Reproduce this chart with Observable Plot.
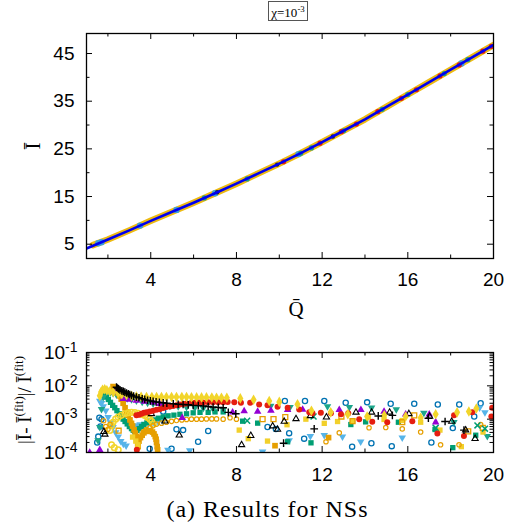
<!DOCTYPE html>
<html><head><meta charset="utf-8">
<script src="https://cdn.jsdelivr.net/npm/d3@7"></script>
<script src="https://cdn.jsdelivr.net/npm/@observablehq/plot@0.6"></script>
<style>
body{margin:0;background:#fff;}
#wrap{position:relative;width:526px;height:531px;overflow:hidden;background:#fff;}
.abs{position:absolute;}
.serif{font-family:"Liberation Serif","DejaVu Serif",serif;color:#000;white-space:nowrap;line-height:1;}
.rot{transform:translate(-50%,-50%) rotate(-90deg);}
.ctr{transform:translate(-50%,-50%);}
sup{font-size:0.68em;vertical-align:0.55em;line-height:0;}
</style></head><body><div id="wrap"></div>
<script>
// ---------- tick values ----------
const xMajor = [4, 8, 12, 16, 20];
const xMinor = [2, 6, 10, 14, 18];
const yTopMajor = [5, 15, 25, 35, 45];
const yTopMinor = [10, 20, 30, 40];
const yBotMajor = [1e-4, 1e-3, 1e-2, 1e-1];
const yBotMinor = [2e-4,3e-4,4e-4,5e-4,6e-4,7e-4,8e-4,9e-4,2e-3,3e-3,4e-3,5e-3,6e-3,7e-3,8e-3,9e-3,2e-2,3e-2,4e-2,5e-2,6e-2,7e-2,8e-2,9e-2];

// ---------- top panel data ----------
const fitQ = [1,2,3,4,5,6,7,8,9,10,11,12,13,14,15,16,17,18,19,20];
const fitI = [4.1,6.0,7.9,9.9,11.8,13.7,15.7,17.7,19.8,21.9,24.1,26.4,28.8,31.2,33.8,36.4,39.0,41.6,44.2,46.8];
const bandQ = [1.3,2,3,4,5,6,7,8,9,10,11,12,13,14,15,16,17,18,19,20];
const bandI = [4.8,6.0,7.9,9.9,11.8,13.7,15.7,17.7,19.8,21.9,24.1,26.4,28.8,31.2,33.8,36.4,39.0,41.6,44.2,46.8];
const topRed = [[10.2,22.3],[11.9,26.2],[12.9,28.6],[13.6,30.2],[14.6,32.8],[15.7,35.6],[16.4,37.4],[17.5,40.3],[18.4,42.6],[19.5,45.5],[19.9,46.5]];
const topTeal = [[11.0,24.1],[11.5,25.2],[13.0,28.8],[14.8,33.3],[16.0,36.4],[17.7,40.8],[18.8,43.7],[6.5,14.7],[8.5,18.7]];
const topLightBlue = [[1.55,5.2],[1.7,5.4],[5.2,12.2],[7.0,15.7],[10.9,23.9],[18.5,42.9],[3.5,8.9]];
const topBlack = [[7.1,15.9],[9.9,21.7],[12.5,27.6]];

// ---------- bottom panel data: [Q, |I - Ifit|/Ifit] ----------
const blackPlus = [[2.40,9.1e-3],[2.45,8.6e-3],[2.50,8.1e-3],[2.56,7.6e-3],[2.65,7.1e-3],[2.72,6.8e-3],[2.79,6.5e-3],[2.87,6.1e-3],[2.95,5.8e-3],[3.02,5.5e-3],[3.10,5.2e-3],[3.20,4.9e-3],[3.33,4.6e-3],[3.45,4.4e-3],[3.60,4.1e-3],[3.72,3.9e-3],[3.85,3.7e-3],[3.98,3.55e-3],[4.11,3.4e-3],[4.25,3.3e-3],[4.40,3.2e-3],[4.58,3.1e-3],[4.75,3.0e-3],[5.05,2.9e-3],[5.28,2.8e-3],[5.51,2.75e-3],[5.75,2.7e-3],[5.98,2.6e-3],[6.22,2.55e-3],[6.45,2.5e-3],[6.68,2.4e-3],[6.91,2.3e-3],[7.15,2.25e-3],[7.38,2.2e-3],[7.62,1.6e-3],[7.97,1.45e-3],[10.2,1.9e-4],[11.63,5.1e-4],[14.62,1.25e-3],[15.28,1.3e-3],[16.96,1.07e-3],[17.74,8.5e-4],[18.62,4.7e-4]];
const yellowDiamond = [[1.62,5.0e-3],[1.68,6.5e-3],[1.75,7.6e-3],[1.85,7.9e-3],[1.95,7.4e-3],[2.09,6.9e-3],[2.25,6.4e-3],[2.48,6.0e-3],[2.65,5.6e-3],[2.87,5.3e-3],[3.1,5.0e-3],[3.33,4.8e-3],[3.55,4.7e-3],[3.8,4.65e-3],[4.05,4.6e-3],[4.27,4.6e-3],[4.5,4.6e-3],[4.73,4.6e-3],[4.97,4.6e-3],[5.2,4.6e-3],[5.45,4.6e-3],[5.67,4.6e-3],[5.9,4.55e-3],[6.14,4.5e-3],[6.37,4.5e-3],[6.6,4.5e-3],[6.85,4.45e-3],[7.07,4.4e-3],[7.3,4.4e-3],[7.55,4.4e-3],[8.18,4.2e-3],[8.8,3.8e-3],[9.53,3.5e-3],[10.0,3.3e-3],[10.85,2.8e-3],[11.5,1.8e-3],[12.4,1.6e-3],[13.2,1.4e-3],[14.1,1.2e-3],[14.9,1.3e-3],[15.9,1.2e-3],[16.6,1.1e-3],[17.3,1.4e-3],[18.3,1.6e-3],[18.85,1.7e-3],[19.2,2.1e-3]];
const redCircle = [[3.33,1.3e-3],[3.45,1.35e-3],[3.57,1.45e-3],[3.68,1.55e-3],[3.80,1.6e-3],[3.95,1.7e-3],[4.11,1.8e-3],[4.27,1.9e-3],[4.42,2.0e-3],[4.58,2.15e-3],[4.73,2.3e-3],[4.9,2.4e-3],[5.05,2.5e-3],[5.2,2.6e-3],[5.36,2.75e-3],[5.52,2.85e-3],[5.67,2.95e-3],[5.86,3.0e-3],[6.06,3.1e-3],[6.25,3.15e-3],[6.45,3.15e-3],[6.68,3.2e-3],[6.91,3.2e-3],[7.15,3.2e-3],[7.38,3.2e-3],[7.59,3.3e-3],[7.9,3.2e-3],[8.21,3.1e-3],[8.64,3.1e-3],[9.06,2.75e-3],[9.45,2.6e-3],[9.92,2.35e-3],[10.39,2.2e-3],[10.93,1.95e-3],[11.4,1.6e-3],[11.55,1.5e-3],[11.94,1.55e-3],[12.41,1.5e-3],[12.88,1.4e-3],[13.22,1.5e-3],[13.73,1.0e-3],[14.34,8.3e-4],[15.04,8.1e-4],[16.21,8.7e-4],[17.38,3.7e-4],[18.16,1.3e-3],[18.62,3.1e-4],[19.01,1.6e-3],[19.9,1.2e-3],[19.94,2.2e-3],[3.35,1.2e-4]];
const purpleTri = [[1.15,1.0e-4],[1.62,1.2e-4],[2.3,6.5e-3],[2.71,4.1e-3],[3.0,3.9e-3],[3.33,3.6e-3],[3.7,3.4e-3],[4.11,3.2e-3],[4.42,2.9e-3],[4.73,2.6e-3],[5.47,1.1e-3],[7.82,1.6e-3],[8.36,1.75e-3],[8.99,1.7e-3],[9.61,1.8e-3],[10.39,1.9e-3],[11.09,1.95e-3],[12.8,1.9e-3],[13.81,1.9e-3],[14.89,1.7e-3],[15.9,1.4e-3],[17.0,1.4e-3],[17.3,8.1e-4]];
const greenDownTri = [[1.54,2.3e-4],[1.62,5.8e-4],[1.70,2.0e-3],[1.78,4.6e-3],[1.86,7.6e-3],[2.0,7.0e-3],[2.12,6.4e-3],[2.24,6.0e-3],[2.4,5.4e-3],[2.55,5.0e-3],[2.71,4.6e-3],[2.9,4.2e-3],[3.1,3.9e-3],[3.33,3.6e-3],[3.6,3.3e-3],[3.85,3.1e-3],[4.11,2.9e-3],[4.5,2.7e-3],[4.89,2.5e-3],[5.28,2.4e-3],[5.67,2.3e-3],[6.06,2.2e-3],[6.45,2.15e-3],[6.9,2.05e-3],[7.38,2.0e-3],[9.6,2.5e-3],[10.5,2.3e-3],[12.25,2.4e-3],[13.27,2.3e-3],[14.31,2.2e-3],[15.46,1.95e-3],[16.75,1.55e-3],[18.15,8.1e-4],[19.71,3.1e-4]];
const greenSquare = [[1.75,6.5e-3],[1.84,5.5e-3],[1.93,4.6e-3],[2.02,3.9e-3],[2.12,3.2e-3],[2.22,2.6e-3],[2.32,2.2e-3],[2.42,1.8e-3],[2.53,1.45e-3],[2.62,1.2e-3],[2.71,1.0e-3],[2.8,8.5e-4],[2.9,7.2e-4],[3.0,6.0e-4],[3.1,5.2e-4],[3.18,4.6e-4],[3.26,4.2e-4],[3.36,4.6e-4],[3.46,5.2e-4],[3.57,6.0e-4],[3.68,6.9e-4],[3.82,7.8e-4],[3.96,8.7e-4],[4.15,9.5e-4],[4.35,1.07e-3],[4.58,1.17e-3],[4.81,1.26e-3],[5.08,1.32e-3],[5.36,1.4e-3],[5.67,1.45e-3],[5.98,1.55e-3],[6.3,1.6e-3],[6.68,1.6e-3],[7.0,1.65e-3],[7.38,1.65e-3],[8.29,8.7e-4],[8.99,7.6e-4],[10.39,2.1e-4],[11.48,1.95e-4],[13.34,6.9e-4],[14.03,8.3e-4],[15.56,8.1e-4],[17.27,4.9e-4],[18.1,1.4e-4],[19.17,3.3e-4]];
const lightBlueDownTri = [[1.62,3.5e-3],[1.7,3.0e-3],[1.78,2.4e-3],[1.9,1.8e-3],[2.01,1.15e-3],[2.12,8.0e-4],[2.24,5.8e-4],[2.36,4.0e-4],[2.48,3.0e-4],[2.6,2.2e-4],[2.72,1.8e-4],[2.85,1.6e-4],[3.33,6.5e-4],[3.5,6.9e-4],[3.72,7.2e-4],[3.9,7.5e-4],[4.11,8.0e-4],[4.35,8.3e-4],[4.58,8.5e-4],[4.8,1.2e-4],[5.82,1.15e-4],[9.22,1.05e-4],[10.46,2.3e-4],[11.45,3.1e-4],[12.1,3.3e-4],[12.95,3.0e-4],[13.8,2.1e-4],[15.74,2.8e-4],[19.35,2.2e-3],[19.6,1.6e-3]];
const blueOpenCircle = [[1.5,2.0e-4],[1.55,3.0e-4],[1.6,1.1e-3],[1.65,6.0e-4],[1.7,1.0e-3],[3.95,1.3e-4],[4.58,1.7e-3],[4.97,1.3e-4],[5.2,5.0e-4],[5.51,4.7e-4],[6.21,2.1e-4],[6.68,4.4e-4],[9.45,5.8e-4],[9.84,5.1e-4],[10.26,3.5e-3],[10.46,3.8e-4],[11.16,2.6e-4],[11.2,3.5e-3],[12.1,3.5e-3],[13.1,3.1e-3],[13.4,1.5e-4],[14.1,3.2e-3],[14.3,1.9e-4],[15.2,2.9e-3],[15.25,1.55e-4],[16.3,2.9e-3],[17.1,2.0e-4],[17.4,2.75e-3],[18.1,5.4e-4],[18.4,2.75e-3],[19.1,1.2e-3],[19.4,3.0e-3]];
const blackOpenTri = [[1.81,4.2e-4],[1.86,3.5e-4],[4.03,1.45e-3],[4.66,8.7e-4],[5.33,3.3e-4],[8.24,1.7e-4],[8.67,3.2e-4],[9.69,6.2e-4],[9.92,4.9e-4],[10.23,8.5e-4],[10.78,1.02e-3],[11.45,1.26e-3],[12.2,1.15e-3],[13.58,1.6e-3],[14.31,1.6e-3],[15.15,1.6e-3],[16.05,1.45e-3],[17.02,1.2e-3],[18.05,8.5e-4],[18.7,4.7e-4],[19.14,2.6e-4]];
const yellowSquare = [[3.15,2.9e-4],[3.3,2.2e-4],[3.4,1.7e-4],[8.13,4.7e-4],[8.55,2.6e-4],[9.45,2.2e-4],[10.36,6.8e-4],[11.24,1.0e-3],[12.1,7.5e-4],[12.72,8.5e-4],[13.42,8.7e-4],[14.16,1.15e-3],[14.89,9.8e-4],[15.74,9.1e-4],[16.6,8.1e-4],[17.5,4.7e-4],[18.5,1.5e-4],[19.51,4.1e-4]];
const orangeSquare = [[2.24,9.5e-3],[2.3,8.6e-3],[2.36,7.8e-3],[2.42,7.0e-3],[2.48,6.0e-3],[2.55,5.0e-3],[2.62,4.0e-3],[2.71,3.0e-3],[2.8,2.2e-3],[2.88,1.65e-3],[2.95,1.3e-3],[3.03,9.5e-4],[3.1,7.5e-4],[3.15,6.2e-4],[3.22,4.8e-4],[3.28,3.8e-4],[3.33,3.0e-4],[3.37,2.3e-4],[3.39,1.8e-4],[3.41,1.5e-4],[3.45,2.2e-4],[3.52,2.8e-4],[3.6,3.3e-4],[3.68,3.9e-4],[3.78,4.3e-4],[3.88,4.5e-4],[3.98,4.4e-4],[4.08,4.1e-4],[4.15,3.6e-4],[4.21,3.0e-4],[4.25,2.5e-4],[4.27,2.0e-4],[4.3,1.5e-4],[4.32,1.2e-4],[9.8,1.6e-4],[12.3,2.8e-4]];
const orangeOpenSquare = [[2.5,4.5e-4],[9.22,1.0e-3],[9.73,1.0e-3],[10.28,1.15e-3],[12.9,1.2e-3],[13.42,8.7e-4],[15.74,8.1e-4],[16.3,1.3e-3],[18.82,4.3e-4],[19.5,5.5e-4]];
const orangeOpenCircle = [[1.8,9e-4],[1.9,6e-4],[2.0,5e-4],[2.1,7e-4],[3.65,4.2e-4],[3.8,4.9e-4],[3.96,5.6e-4],[4.1,6.3e-4],[4.27,7.1e-4],[4.5,7.6e-4],[4.73,8.1e-4],[4.97,8.6e-4],[5.2,9.1e-4],[5.45,9.5e-4],[5.67,9.8e-4],[5.9,1.0e-3],[6.14,1.0e-3],[6.37,1.0e-3],[6.6,1.02e-3],[6.85,1.02e-3],[7.07,1.02e-3],[7.38,1.0e-3],[7.7,1.1e-3],[8.0,1.0e-3],[12.18,2.1e-4],[12.8,3.9e-4],[14.19,5.5e-4],[14.97,5.6e-4],[15.74,5.1e-4],[16.6,4.1e-4],[17.53,1.7e-4],[18.39,1.7e-4],[19.4,6.9e-4]];
const yellowOpenCircle = [[2.09,4.6e-4],[2.17,6.5e-4],[2.24,8.1e-4],[2.36,1.0e-3],[2.48,1.15e-3],[2.63,1.3e-3],[2.79,1.45e-3],[2.95,1.55e-3],[3.1,1.6e-3],[3.26,1.58e-3],[3.41,1.5e-3],[3.57,1.38e-3],[3.72,1.28e-3],[3.85,1.12e-3],[3.96,1.0e-3],[4.05,8.5e-4],[4.12,7e-4],[2.17,1.7e-4],[2.3,1.4e-4],[2.48,1.2e-4]];
const greenTimes = [[8.5,9e-4],[11.6,1.2e-3],[17.3,5.5e-4],[19.25,6.5e-4],[19.6,5.2e-4]];

// ---------- layout ----------
const W = 526, LM = 86, RM = 33;
const wrap = document.getElementById("wrap");
const font = "'Liberation Sans', Arial, Helvetica, sans-serif";

function frameTicks(xMaj, xMin, yMaj, yMin, innerW, innerH) {
  const big = 6, small = 3.5;
  return [
    Plot.tickX(xMaj, {x: d => d, insetTop: innerH - big}),
    Plot.tickX(xMaj, {x: d => d, insetBottom: innerH - big}),
    Plot.tickX(xMin, {x: d => d, insetTop: innerH - small}),
    Plot.tickX(xMin, {x: d => d, insetBottom: innerH - small}),
    Plot.tickY(yMaj, {y: d => d, insetRight: innerW - big}),
    Plot.tickY(yMaj, {y: d => d, insetLeft: innerW - big}),
    Plot.tickY(yMin, {y: d => d, insetRight: innerW - small}),
    Plot.tickY(yMin, {y: d => d, insetLeft: innerW - small})
  ];
}

// top panel
const H1 = 325, T1 = 33, B1 = 67;
const topPlot = Plot.plot({
  width: W, height: H1, marginTop: T1, marginBottom: B1, marginLeft: LM, marginRight: RM,
  style: {fontFamily: font, fontSize: "19px", color: "#000", background: "transparent"},
  x: {domain: [1, 20]},
  y: {domain: [2, 49.2]},
  marks: [
    Plot.line(bandQ.map((q, i) => [q, bandI[i]]), {x: "0", y: "1", stroke: "#EDBA12", strokeWidth: 6.5, clip: true}),
    Plot.dot(topLightBlue, {x: "0", y: "1", fill: "#3C9FD8", r: 3.2, clip: true}),
    Plot.dot(topTeal, {x: "0", y: "1", fill: "#1C9E86", r: 2.6, clip: true}),
    Plot.dot(topRed, {x: "0", y: "1", fill: "#E51E10", r: 2.6, clip: true}),
    Plot.dot(topBlack, {x: "0", y: "1", fill: "#222", r: 2.2, clip: true}),
    Plot.line(fitQ.map((q, i) => [q, fitI[i]]), {x: "0", y: "1", stroke: "#0000F0", strokeWidth: 2.6, clip: true}),
    ...frameTicks(xMajor, xMinor, yTopMajor, yTopMinor, W - LM - RM, H1 - T1 - B1),
    Plot.frame({stroke: "#000", strokeWidth: 1.3}),
    Plot.axisX({ticks: xMajor, tickSize: 0, tickPadding: 14, label: null}),
    Plot.axisY({ticks: yTopMajor, tickSize: 0, tickPadding: 12, label: null})
  ]
});
topPlot.style.position = "absolute"; topPlot.style.left = "0px"; topPlot.style.top = "0px";
wrap.appendChild(topPlot);

// bottom panel
const H2 = 160, T2 = 22, B2 = 38, Y2 = 330;
const sym = (data, o) => Plot.dot(data, {x: "0", y: "1", r: 2.8, clip: true, ...o});
const botPlot = Plot.plot({
  width: W, height: H2, marginTop: T2, marginBottom: B2, marginLeft: LM, marginRight: RM,
  style: {fontFamily: font, fontSize: "19px", color: "#000", background: "transparent"},
  x: {domain: [1, 20]},
  y: {type: "log", domain: [1e-4, 1e-1]},
  marks: [
    sym(blueOpenCircle, {symbol: "circle", stroke: "#0072B2", fill: "none", strokeWidth: 1.3, r: 2.6}),
    sym(lightBlueDownTri, {symbol: "triangle", rotate: 180, fill: "#56B4E9"}),
    sym(greenSquare, {symbol: "square", fill: "#009E73", r: 3}),
    sym(greenDownTri, {symbol: "triangle", rotate: 180, fill: "#1CA58A"}),
    sym(orangeSquare, {symbol: "square", fill: "#E69F00", r: 3.2}),
    sym(yellowOpenCircle, {symbol: "circle", stroke: "#F2D52B", fill: "none", strokeWidth: 1.5}),
    sym(yellowSquare, {symbol: "square", fill: "#F2D02B", r: 3}),
    sym(orangeOpenSquare, {symbol: "square", stroke: "#E69F00", fill: "none", strokeWidth: 1.3}),
    sym(orangeOpenCircle, {symbol: "circle", stroke: "#E69F00", fill: "none", strokeWidth: 1.2, r: 2.2}),
    sym(greenTimes, {symbol: "times", stroke: "#009E73", strokeWidth: 1.5}),
    sym(purpleTri, {symbol: "triangle", fill: "#9400D3"}),
    sym(blackOpenTri, {symbol: "triangle", stroke: "#000", fill: "none", strokeWidth: 1.1, r: 2.3}),
    sym(redCircle, {symbol: "circle", fill: "#E51E10", r: 3}),
    sym(yellowDiamond, {symbol: "diamond", fill: "#F2D52B", r: 3.2}),
    sym(blackPlus, {symbol: "plus", stroke: "#000", strokeWidth: 1.4, r: 2.6}),
    ...frameTicks(xMajor, xMinor, yBotMajor, yBotMinor, W - LM - RM, H2 - T2 - B2),
    Plot.frame({stroke: "#000", strokeWidth: 1.3}),
    Plot.axisX({ticks: xMajor, tickSize: 0, tickPadding: 15, label: null}),
    Plot.axisY({ticks: yBotMajor, tickSize: 0, tickPadding: 9, label: null,
      tickFormat: d => "10^" + Math.round(Math.log10(d))})
  ]
});
botPlot.style.position = "absolute"; botPlot.style.left = "0px"; botPlot.style.top = Y2 + "px";
wrap.appendChild(botPlot);

// superscript exponents on log labels
const NS = "http://www.w3.org/2000/svg";
botPlot.querySelectorAll('g[aria-label="y-axis tick label"] text').forEach(t => {
  const [b, e] = t.textContent.split("^");
  t.textContent = "";
  const t1 = document.createElementNS(NS, "tspan"); t1.textContent = b;
  const t2 = document.createElementNS(NS, "tspan"); t2.textContent = e;
  t2.setAttribute("dy", "-0.5em"); t2.setAttribute("font-size", "14px");
  t.append(t1, t2);
});

// HTML labels
function addDiv(html, cls, css) {
  const d = document.createElement("div");
  d.className = "abs serif " + cls;
  d.innerHTML = html;
  Object.assign(d.style, css);
  wrap.appendChild(d);
  return d;
}
addDiv("χ=10<sup>-3</sup>", "", {left: "268px", top: "1px", width: "40px", height: "20px", border: "1px solid #555", fontSize: "13px", textAlign: "center", lineHeight: "22px", boxSizing: "border-box"});
addDiv("Ī", "rot", {left: "33px", top: "146px", fontSize: "21px"});
addDiv("Q̄", "ctr", {left: "296px", top: "309px", fontSize: "21px"});
addDiv("|Ī- Ī<sup>(fit)</sup>|/ Ī<sup>(fit)</sup>", "rot", {left: "24px", top: "400px", fontSize: "19px"});

// caption
const cap = d3.select(wrap).append("svg").attr("width", W).attr("height", 40)
  .style("position", "absolute").style("left", "0px").style("top", "491px");
cap.append("text").attr("x", 267).attr("y", 26).attr("text-anchor", "middle")
  .attr("font-family", "'Liberation Serif','DejaVu Serif',serif").attr("font-size", 24)
  .attr("textLength", 201).attr("lengthAdjust", "spacing")
  .text("(a) Results for NSs");
</script></body></html>
